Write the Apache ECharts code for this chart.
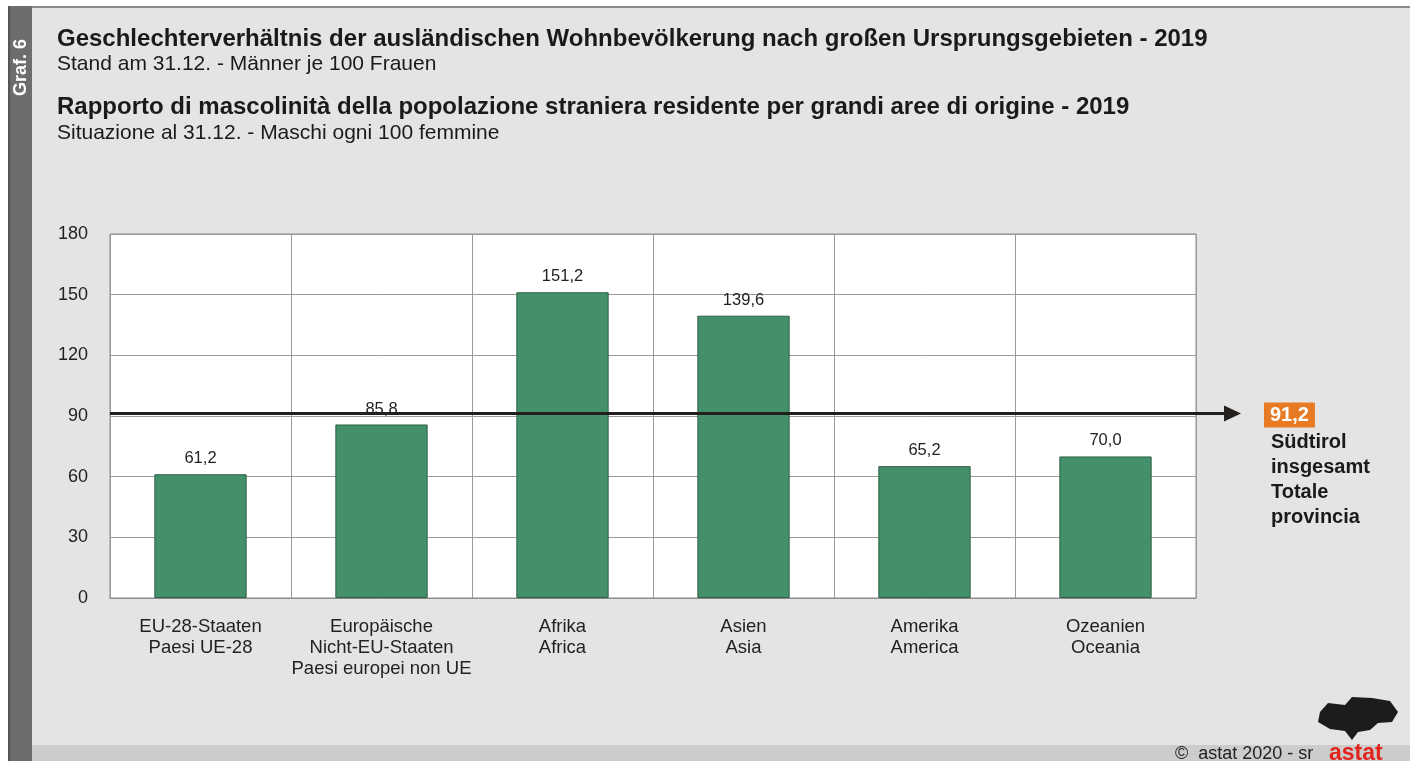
<!DOCTYPE html>
<html>
<head>
<meta charset="utf-8">
<script src="https://cdn.jsdelivr.net/npm/echarts@6/dist/echarts.min.js"></script>
<style>
  html, body { margin: 0; padding: 0; background: #fff; }
  #chart { width: 1410px; height: 761px; }
</style>
</head>
<body>
<div id="chart"></div>
<script>
// Daten
const categories = [
  'EU-28-Staaten\nPaesi UE-28',
  'Europäische\nNicht-EU-Staaten\nPaesi europei non UE',
  'Afrika\nAfrica',
  'Asien\nAsia',
  'Amerika\nAmerica',
  'Ozeanien\nOceania'
];
const ratio = [61.2, 85.8, 151.2, 139.6, 65.2, 70.0];
const totalRatio = 91.2;
const totalLabel = ['Südtirol', 'insgesamt', 'Totale', 'provincia'];
const yTicks = [0, 30, 60, 90, 120, 150, 180];

const FONT = '"Liberation Sans", Arial, sans-serif';
const fmt = v => v.toFixed(1).replace('.', ',');

const chart = echarts.init(document.getElementById('chart'));

// Hintergrund, Streifen, Fusszeile, Logo (grob)
const frame = [
  { type: 'rect', z: -10, shape: { x: 8, y: 6, width: 1402, height: 755 }, style: { fill: '#e4e4e4' } },
  { type: 'rect', z: -9, shape: { x: 8, y: 6, width: 1402, height: 2 }, style: { fill: '#8a8a8a' } },
  { type: 'rect', z: -9, shape: { x: 8, y: 745, width: 1402, height: 16 }, style: { fill: '#cccccc' } },
  { type: 'rect', z: -8, shape: { x: 8, y: 6, width: 24, height: 755 }, style: { fill: '#6d6d6d' } },
  { type: 'rect', z: -8, shape: { x: 8, y: 6, width: 2, height: 755 }, style: { fill: '#555' } },
  { type: 'text', x: 12, y: 96, rotation: Math.PI / 2,
    style: { text: 'Graf. 6', fill: '#fff', font: 'bold 18px ' + FONT, textVerticalAlign: 'top' } },
  { type: 'text', x: 1175, y: 745,
    style: { text: '©  astat 2020 - sr', fill: '#222', font: '18px ' + FONT } },
  { type: 'text', x: 1329, y: 742,
    style: { text: 'astat', fill: '#e2241d', font: 'bold 23px ' + FONT } },
  { type: 'polygon', z: -5,
    shape: { points: [[1320, 712], [1328, 703], [1345, 705], [1352, 697], [1372, 698], [1390, 701],
      [1398, 712], [1392, 722], [1378, 723], [1370, 730], [1358, 732], [1352, 740], [1345, 731],
      [1330, 729], [1318, 722]] },
    style: { fill: '#1c1c1c' } }
];

const option = {
  backgroundColor: '#fff',
  animation: false,
  title: [
    { text: 'Geschlechterverhältnis der ausländischen Wohnbevölkerung nach großen Ursprungsgebieten - 2019',
      left: 52, top: 22, textStyle: { fontFamily: FONT, fontSize: 24, fontWeight: 'bold', color: '#1a1a1a' } },
    { text: 'Stand am 31.12. - Männer je 100 Frauen',
      left: 52, top: 49, textStyle: { fontFamily: FONT, fontSize: 21, fontWeight: 'normal', color: '#1a1a1a' } },
    { text: 'Rapporto di mascolinità della popolazione straniera residente per grandi aree di origine - 2019',
      left: 52, top: 90, textStyle: { fontFamily: FONT, fontSize: 24, fontWeight: 'bold', color: '#1a1a1a' } },
    { text: 'Situazione al 31.12. - Maschi ogni 100 femmine',
      left: 52, top: 118, textStyle: { fontFamily: FONT, fontSize: 21, fontWeight: 'normal', color: '#1a1a1a' } }
  ],
  grid: {
    left: 110, right: 214, top: 234, bottom: 163,
    show: true, backgroundColor: '#fff', borderColor: '#8c8c8c', borderWidth: 1
  },
  xAxis: {
    type: 'category',
    data: categories,
    axisLine: { lineStyle: { color: '#8c8c8c' } },
    axisTick: { show: false },
    splitLine: { show: true, interval: 0, lineStyle: { color: '#9a9a9a', width: 1 } },
    axisLabel: { interval: 0, color: '#222', fontFamily: FONT, fontSize: 18.5, lineHeight: 21, margin: 18 }
  },
  yAxis: {
    type: 'value',
    min: yTicks[0], max: yTicks[yTicks.length - 1], interval: 30,
    axisLine: { show: false },
    axisTick: { show: false },
    splitLine: { lineStyle: { color: '#9a9a9a', width: 1 } },
    axisLabel: { color: '#222', fontFamily: FONT, fontSize: 18, margin: 22 }
  },
  series: [{
    type: 'bar',
    data: ratio,
    barWidth: '51%',
    itemStyle: { color: '#43906a', borderColor: '#2e5f45', borderWidth: 1 },
    label: {
      show: true, position: 'top', distance: 7,
      color: '#222', fontFamily: FONT, fontSize: 16.5,
      formatter: p => fmt(p.value)
    }
  }],
  graphic: frame
};

chart.setOption(option);

// Referenzlinie (Südtirol insgesamt) mit Pfeil
const y = chart.convertToPixel({ yAxisIndex: 0 }, totalRatio);
const x0 = 110, x1 = 1241;
chart.setOption({
  graphic: frame.concat([
    { type: 'line', z: 100, shape: { x1: x0, y1: y, x2: x1 - 14, y2: y },
      style: { stroke: '#231f1c', lineWidth: 3 } },
    { type: 'polygon', z: 100, shape: { points: [[x1 - 17, y - 8], [x1, y], [x1 - 17, y + 8]] },
      style: { fill: '#231f1c' } },
    { type: 'text', z: 100, x: 1264, y: y - 11,
      style: { text: fmt(totalRatio), fill: '#fff', font: 'bold 20px ' + FONT,
        backgroundColor: '#e87a24', padding: [3, 6, 2, 6] } },
    { type: 'text', z: 100, x: 1271, y: y + 16,
      style: { text: totalLabel.join('\n'), fill: '#1a1a1a', font: 'bold 20px ' + FONT, lineHeight: 25 } }
  ])
});
</script>
</body>
</html>
